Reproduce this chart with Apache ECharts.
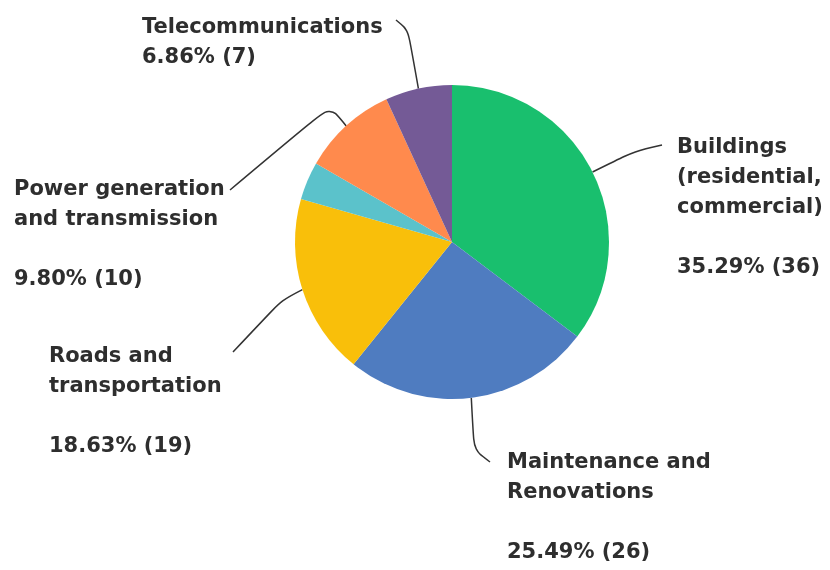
<!DOCTYPE html>
<html>
<head>
<meta charset="utf-8">
<script src="https://cdn.jsdelivr.net/npm/echarts@6/dist/echarts.min.js"></script>
<style>
  html, body { margin: 0; padding: 0; background: #fff; }
  #chart { width: 830px; height: 570px; }
</style>
</head>
<body>
<div id="chart"></div>
<script>
// Survey responses by infrastructure sector
const categories = [
  'Buildings\n(residential,\ncommercial)',
  'Maintenance and\nRenovations',
  'Roads and\ntransportation',
  'Other',
  'Power generation\nand transmission',
  'Telecommunications'
];
const counts = [36, 26, 19, 4, 10, 7];
const colors = ['#19bf6e', '#4f7cc0', '#f9bf0a', '#5bc2cb', '#ff8a4d', '#745a96'];
const showLabel = [true, true, true, false, true, true];
// gap between name and value: blank line for most, none for the short label
const valueSep = ['\n\n', '\n\n', '\n\n', '\n\n', '\n\n', '\n'];

const total = counts.reduce((a, b) => a + b, 0);

// label block placement (top-left of text) and leader-line bend/end points
const labelPlacement = [
  { x: 677, y: 133, line: [[635, 151], [662, 145]] },
  { x: 507, y: 448, line: [[474, 450], [490, 462]] },
  { x: 49,  y: 342, line: [[282, 300], [233, 352]] },
  null,
  { x: 14,  y: 175, line: [[330, 106], [230, 190]] },
  { x: 142, y: 13,  line: [[408, 30], [396, 20]] }
];

const chart = echarts.init(document.getElementById('chart'), null, { renderer: 'canvas' });

chart.setOption({
  backgroundColor: '#ffffff',
  animation: false,
  series: [{
    type: 'pie',
    center: [452, 242],
    radius: 157,
    startAngle: 90,
    clockwise: true,
    avoidLabelOverlap: false,
    itemStyle: { borderWidth: 0 },
    label: {
      show: true,
      color: '#2e2e2e',
      fontFamily: '"DejaVu Sans", sans-serif',
      fontWeight: 'bold',
      fontSize: 21,
      lineHeight: 30,
      align: 'left',
      formatter: p => p.name + valueSep[p.dataIndex] +
        (p.value / total * 100).toFixed(2) + '% (' + p.value + ')'
    },
    labelLine: {
      show: true,
      smooth: 0.3,
      length: 20,
      length2: 20,
      lineStyle: { color: '#333', width: 1.5 }
    },
    labelLayout: params => {
      const pl = labelPlacement[params.dataIndex];
      if (!pl) return {};
      const start = params.labelLinePoints ? params.labelLinePoints[0] : pl.line[0];
      return {
        x: pl.x,
        y: pl.y,
        align: 'left',
        verticalAlign: 'top',
        labelLinePoints: [start].concat(pl.line)
      };
    },
    data: categories.map((name, i) => ({
      name: name,
      value: counts[i],
      itemStyle: { color: colors[i] },
      label: { show: showLabel[i] },
      labelLine: { show: showLabel[i] }
    }))
  }]
});
</script>
</body>
</html>
